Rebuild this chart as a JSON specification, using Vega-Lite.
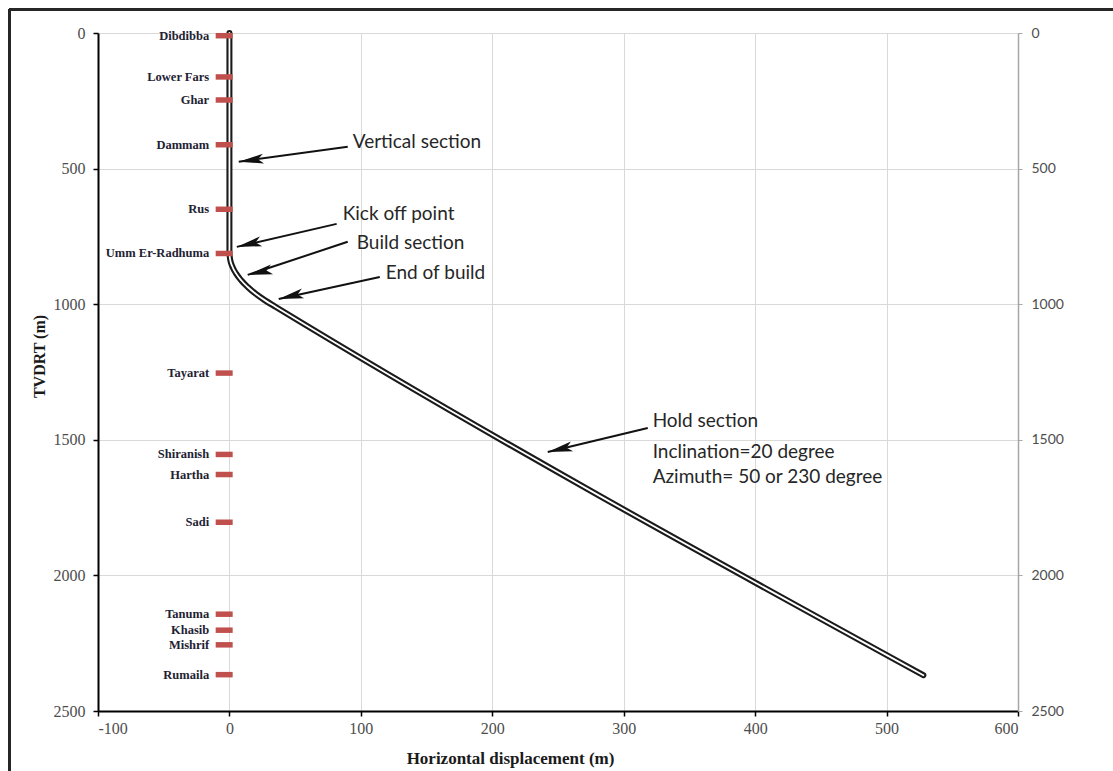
{
  "$schema": "https://vega.github.io/schema/vega-lite/v6.json",
  "width": 920,
  "height": 678,
  "autosize": {"type": "none"},
  "padding": {"left": 98, "top": 33, "right": 95, "bottom": 60},
  "background": "white",
  "config": {"view": {"stroke": null}},
  "datasets": {
    "trajectory": [
      {"hd": 0, "tvd": 0},
      {"hd": 0, "tvd": 810},
      {"hd": 0.56, "tvd": 835.5},
      {"hd": 2.23, "tvd": 861},
      {"hd": 5.0, "tvd": 886.4},
      {"hd": 8.9, "tvd": 911.6},
      {"hd": 13.9, "tvd": 936.6},
      {"hd": 19.9, "tvd": 961.4},
      {"hd": 27.1, "tvd": 985.9},
      {"hd": 35.3, "tvd": 1010.1},
      {"hd": 528, "tvd": 2368}
    ],
    "formations": [
      {"name": "Dibdibba", "depth": 10},
      {"name": "Lower Fars", "depth": 162},
      {"name": "Ghar", "depth": 247},
      {"name": "Dammam", "depth": 412},
      {"name": "Rus", "depth": 650},
      {"name": "Umm Er-Radhuma", "depth": 813},
      {"name": "Tayarat", "depth": 1254},
      {"name": "Shiranish", "depth": 1554},
      {"name": "Hartha", "depth": 1628},
      {"name": "Sadi", "depth": 1804},
      {"name": "Tanuma", "depth": 2143},
      {"name": "Khasib", "depth": 2202},
      {"name": "Mishrif", "depth": 2256},
      {"name": "Rumaila", "depth": 2366}
    ],
    "notes": [
      {"text": "Vertical section", "hd": 93.8, "tvd": 401},
      {"text": "Kick off point", "hd": 86.2, "tvd": 667},
      {"text": "Build section", "hd": 96.9, "tvd": 774},
      {"text": "End of build", "hd": 118.9, "tvd": 884.6},
      {"text": "Hold section", "hd": 322, "tvd": 1431},
      {"text": "Inclination=20 degree", "hd": 322, "tvd": 1545},
      {"text": "Azimuth= 50 or 230 degree", "hd": 322, "tvd": 1637}
    ],
    "arrows": [
      {"name": "V", "hd1": 90.0, "tvd1": 419.6, "hd2": 7.1, "tvd2": 474.5},
      {"name": "K", "hd1": 81.6, "tvd1": 703.8, "hd2": 5.6, "tvd2": 788.7},
      {"name": "B", "hd1": 90.0, "tvd1": 770, "hd2": 13.9, "tvd2": 892},
      {"name": "E", "hd1": 114.4, "tvd1": 899.4, "hd2": 37.5, "tvd2": 980.5},
      {"name": "H", "hd1": 318.3, "tvd1": 1456.7, "hd2": 242.2, "tvd2": 1545}
    ]
  },
  "resolve": {"axis": {"x": "independent", "y": "independent"}},
  "layer": [
    {
      "data": {"name": "formations"},
      "mark": {"type": "rule", "color": "#262626", "strokeWidth": 2.5, "clip": false},
      "encoding": {
        "x": {"datum": -167.5, "type": "quantitative", "axis": null, "scale": {"domain": [-100, 600], "nice": false, "zero": false}},
        "x2": {"datum": 675},
        "y": {"datum": -87.8, "type": "quantitative", "axis": null, "scale": {"domain": [0, 2500], "reverse": true, "nice": false, "zero": false}}
      }
    },
    {
      "data": {"name": "formations"},
      "mark": {"type": "rule", "color": "#262626", "strokeWidth": 2.5, "clip": false},
      "encoding": {
        "x": {"datum": -167.5, "type": "quantitative", "axis": null},
        "y": {"datum": -87.8, "type": "quantitative", "axis": null},
        "y2": {"datum": 2750}
      }
    },
    {
      "data": {"name": "trajectory"},
      "mark": {"type": "line", "color": "#1a1a1a", "strokeWidth": 6, "strokeCap": "round", "strokeJoin": "round", "interpolate": "monotone"},
      "encoding": {
        "x": {"field": "hd", "type": "quantitative", "scale": {"domain": [-100, 600], "nice": false, "zero": false},
          "axis": {
            "orient": "bottom",
            "values": [-100, 0, 100, 200, 300, 400, 500, 600],
            "labelExpr": "'' + datum.value",
            "grid": true, "gridColor": "#d9d9d9", "gridWidth": 1,
            "domainColor": "#000000", "domainWidth": 2,
            "tickColor": "#000000", "tickSize": 5, "tickWidth": 1.5,
            "labelFont": "Liberation Serif", "labelFontSize": 16, "labelColor": "#4d4d4d", "labelPadding": 4,
            "title": "Horizontal displacement (m)",
            "titleFont": "Liberation Serif", "titleFontSize": 17, "titleFontWeight": "bold", "titleColor": "#1a1a1a",
            "titleX": 412, "titleY": 52, "titleBaseline": "alphabetic"
          }},
        "y": {"field": "tvd", "type": "quantitative", "scale": {"domain": [0, 2500], "reverse": true, "nice": false, "zero": false},
          "axis": {
            "orient": "left",
            "values": [0, 500, 1000, 1500, 2000, 2500],
            "labelExpr": "'' + datum.value",
            "grid": true, "gridColor": "#d9d9d9", "gridWidth": 1,
            "domainColor": "#000000", "domainWidth": 2,
            "tickColor": "#000000", "tickSize": 5, "tickWidth": 1.5,
            "labelFont": "Liberation Serif", "labelFontSize": 16, "labelColor": "#4d4d4d", "labelPadding": 8,
            "title": "TVDRT (m)",
            "titleFont": "Liberation Serif", "titleFontSize": 16, "titleFontWeight": "bold", "titleColor": "#1a1a1a",
            "titleX": -54, "titleY": 323, "titleBaseline": "alphabetic"
          }},
        "order": {"field": "tvd"}
      }
    },
    {
      "data": {"name": "trajectory"},
      "mark": {"type": "line", "color": "#ffffff", "strokeWidth": 1.8, "strokeCap": "round", "strokeJoin": "round", "interpolate": "monotone"},
      "encoding": {
        "x": {"field": "hd", "type": "quantitative", "axis": null},
        "y": {"field": "tvd", "type": "quantitative",
          "axis": {
            "orient": "right",
            "values": [0, 500, 1000, 1500, 2000, 2500],
            "labelExpr": "'' + datum.value",
            "grid": false,
            "domainColor": "#a6a6a6", "domainWidth": 1.5,
            "tickColor": "#a6a6a6", "tickSize": 4, "tickWidth": 1,
            "labelFont": "Lato", "labelFontSize": 14, "labelColor": "#4d4d4d", "labelPadding": 9,
            "title": null
          }},
        "order": {"field": "tvd"}
      }
    },
    {
      "data": {"name": "formations"},
      "mark": {"type": "tick", "orient": "horizontal", "size": 17, "thickness": 5.5, "color": "#c0504d", "opacity": 1},
      "encoding": {
        "x": {"datum": -4, "type": "quantitative", "axis": null},
        "y": {"field": "depth", "type": "quantitative", "axis": null}
      }
    },
    {
      "data": {"name": "formations"},
      "mark": {"type": "text", "align": "right", "baseline": "middle", "dx": -15, "font": "Liberation Serif", "fontWeight": "bold", "fontSize": 12.5, "color": "#222233"},
      "encoding": {
        "x": {"datum": -4, "type": "quantitative", "axis": null},
        "y": {"field": "depth", "type": "quantitative", "axis": null},
        "text": {"field": "name"}
      }
    },
    {
      "data": {"name": "arrows"},
      "mark": {"type": "rule", "color": "#111111", "strokeWidth": 2},
      "encoding": {
        "x": {"field": "hd1", "type": "quantitative", "axis": null},
        "y": {"field": "tvd1", "type": "quantitative", "axis": null},
        "x2": {"field": "hd2"},
        "y2": {"field": "tvd2"}
      }
    },
    {
      "data": {"name": "arrows"},
      "mark": {"type": "point", "shape": "M0,0L0.4,2L0,1.55L-0.4,2Z", "filled": true, "size": 620, "color": "#111111", "opacity": 1, "strokeWidth": 0},
      "encoding": {
        "x": {"field": "hd2", "type": "quantitative", "axis": null},
        "y": {"field": "tvd2", "type": "quantitative", "axis": null},
        "angle": {"condition": {"test": "datum.name === 'V'", "value": 263}, "value": 257}
      }
    },
    {
      "data": {"name": "notes"},
      "mark": {"type": "text", "align": "left", "baseline": "middle", "font": "Lato", "fontSize": 19, "color": "#262626"},
      "encoding": {
        "x": {"field": "hd", "type": "quantitative", "axis": null},
        "y": {"field": "tvd", "type": "quantitative", "axis": null},
        "text": {"field": "text"}
      }
    }
  ]
}
